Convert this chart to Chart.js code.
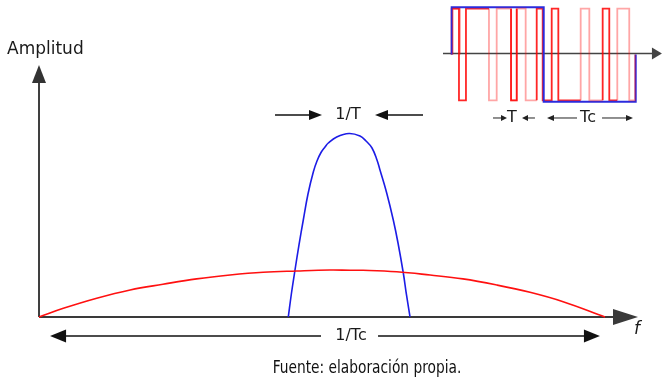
<!DOCTYPE html>
<html><head><meta charset="utf-8">
<script src="https://cdn.jsdelivr.net/npm/chart.js@4.4.1/dist/chart.umd.min.js"></script>
<style>html,body{margin:0;padding:0;background:#fff;overflow:hidden}canvas{display:block}</style>
</head><body>
<canvas id="c" width="665" height="382"></canvas>
<script>
// ---- Spectrum (frequency relative to centre, amplitude normalised) ----
const redFreq  = [-1.0,-0.914,-0.796,-0.678,-0.562,-0.443,-0.325,-0.208,-0.089,0.028,0.099,0.145,0.264,0.382,0.498,0.617,0.735,0.852,1.0];
const redAmp   = [0,0.047,0.102,0.147,0.178,0.207,0.228,0.243,0.250,0.255,0.254,0.254,0.246,0.228,0.207,0.174,0.134,0.083,0];
const blueFreq = [-0.1191,-0.1078,-0.0954,-0.0813,-0.0661,-0.0495,-0.0307,-0.0177,-0.0035,0.0106,0.0223,0.0519,0.0954,0.1343,0.1555,0.1767,0.1943,0.2049,0.2286,0.2519,0.2686,0.2873,0.2986,0.3110];
const blueAmp  = [0,0.1304,0.2554,0.3913,0.5272,0.6685,0.7880,0.8478,0.8940,0.9239,0.9457,0.9783,0.9973,0.9837,0.9565,0.9185,0.8533,0.7989,0.6739,0.5272,0.4022,0.2391,0.1196,0];

// ---- Inset: data bit (blue) and chip code (red) ----
const bitTime  = [0,0,1,1,2,2];
const bitLevel = [0,1,1,-1,-1,0];
const chipTime  = [0,0,0.079,0.079,0.155,0.155,0.405, 0.405, 0.645,0.645,0.707,0.707, 0.707, 0.924,0.924,0.989,0.989,1.087,1.087,1.159,1.159,1.402, 1.402, 1.641,1.641,1.713,1.713,1.8];
const chipLevel = [0,1,1,-1,-1,1,1, null, 1,-1,-1,1, null, -1,1,1,-1,-1,1,1,-1,-1, null, -1,1,1,-1,-1];
const chipLightTime  = [0.012,0.012,0.09,0.09, 0.09, 0.405,0.405,0.489,0.489,0.645,0.645,0.707,0.707,0.804,0.804,0.924, 0.924, 1.402,1.402,1.496,1.496,1.641, 1.641, 1.8,1.8,1.930,1.930,1.992,1.992];
const chipLightLevel = [0,1,1,0, null, 1,-1,-1,1,1,-1,-1,1,1,-1,-1, null, -1,1,1,-1,-1, null, -1,1,1,-1,-1,0];

// ---- Text labels ----
const axisLabels = ['Amplitud', 'f'];
const spanLabels = ['1/T', '1/Tc', 'T', 'Tc'];
const caption = 'Fuente: elaboración propia.';

const pts = (xs, ys) => xs.map((x, i) => ({x: x, y: ys[i]}));

const FONT = '"DejaVu Sans", Verdana, sans-serif';

function arrow(ctx, x1, y1, x2, y2, len, half, color, lw) {
  const ang = Math.atan2(y2 - y1, x2 - x1);
  const bx = x2 - Math.cos(ang) * len, by = y2 - Math.sin(ang) * len;
  ctx.save();
  ctx.strokeStyle = color; ctx.fillStyle = color; ctx.lineWidth = lw;
  ctx.beginPath(); ctx.moveTo(x1, y1); ctx.lineTo(bx + Math.cos(ang) * 1, by + Math.sin(ang) * 1); ctx.stroke();
  ctx.beginPath();
  ctx.moveTo(x2, y2);
  ctx.lineTo(bx - Math.sin(ang) * half, by + Math.cos(ang) * half);
  ctx.lineTo(bx + Math.sin(ang) * half, by - Math.cos(ang) * half);
  ctx.closePath(); ctx.fill();
  ctx.restore();
}

const decor = {
  id: 'decor',
  beforeDatasetsDraw(chart) {
    const ctx = chart.ctx, s = chart.scales;
    const X = v => s.x.getPixelForValue(v), Y = v => s.y.getPixelForValue(v);
    const X2 = v => s.x2.getPixelForValue(v), Y2 = v => s.y2.getPixelForValue(v);
    ctx.save();
    ctx.strokeStyle = '#555'; ctx.lineWidth = 1.6;
    ctx.beginPath(); ctx.moveTo(X(-1), Y(0)); ctx.lineTo(X(-1), Y(1.28)); ctx.stroke();
    ctx.restore();
    arrow(ctx, X(-1), Y(0), X(-1), Y(1.3696), 18, 7, '#333', 1.6);
    arrow(ctx, X(-1), Y(0), X(1.1166), Y(0), 25, 8, '#3a3a3a', 2);
    arrow(ctx, X2(-0.0946), Y2(0.02), X2(2.285), Y2(0.02), 10, 6, '#444', 1.6);
  },
  afterDatasetsDraw(chart) {
    const ctx = chart.ctx, s = chart.scales;
    const X = v => s.x.getPixelForValue(v), Y = v => s.y.getPixelForValue(v);
    const X2 = v => s.x2.getPixelForValue(v), Y2 = v => s.y2.getPixelForValue(v);
    ctx.save();
    ctx.fillStyle = '#1a1a1a';
    ctx.textBaseline = 'middle';
    ctx.font = '17px ' + FONT; ctx.textAlign = 'left';
    ctx.fillText(axisLabels[0], X(-1.113), Y(1.451));
    ctx.font = 'italic 17px ' + FONT; ctx.textAlign = 'center';
    ctx.fillText(axisLabels[1], X(1.113), Y(-0.0707));
    ctx.font = '16px ' + FONT; ctx.textAlign = 'center';
    ctx.fillText(spanLabels[0], X(0.0919), Y(1.0978));
    arrow(ctx, X(-0.166), Y(1.0978), X(0.0), Y(1.0978), 13, 5, '#111', 1.5);
    arrow(ctx, X(0.3569), Y(1.0978), X(0.1873), Y(1.0978), 13, 5, '#111', 1.5);
    ctx.fillText(spanLabels[1], X(0.1025), Y(-0.1033));
    arrow(ctx, X(-0.0035), Y(-0.1033), X(-0.961), Y(-0.1033), 16, 6.5, '#111', 1.5);
    arrow(ctx, X(0.198), Y(-0.1033), X(0.982), Y(-0.1033), 16, 6.5, '#111', 1.5);
    ctx.font = '16px ' + FONT;
    ctx.fillText(spanLabels[2], X2(0.655), Y2(-1.345));
    arrow(ctx, X2(0.449), Y2(-1.345), X2(0.601), Y2(-1.345), 6, 3, '#222', 1);
    arrow(ctx, X2(0.905), Y2(-1.345), X2(0.764), Y2(-1.345), 6, 3, '#222', 1);
    ctx.fillText(spanLabels[3], X2(1.4815), Y2(-1.345));
    arrow(ctx, X2(1.362), Y2(-1.345), X2(1.036), Y2(-1.345), 7, 3, '#222', 1);
    arrow(ctx, X2(1.634), Y2(-1.345), X2(1.971), Y2(-1.345), 7, 3, '#222', 1);
    // caption
    ctx.font = '17px "Liberation Sans Narrow", "DejaVu Sans Condensed", sans-serif';
    ctx.fillStyle = '#111';
    ctx.translate(367, 369);
    ctx.scale(0.9, 1);
    ctx.fillText(caption, 0, 0);
    ctx.restore();
  }
};

new Chart(document.getElementById('c'), {
  type: 'scatter',
  data: {
    datasets: [
      {data: pts(chipLightTime, chipLightLevel), xAxisID: 'x2', yAxisID: 'y3', showLine: true, spanGaps: false,
       borderColor: 'rgba(255,0,0,0.35)', borderWidth: 1.8, pointRadius: 0, tension: 0, clip: false},
      {data: pts(bitTime, bitLevel), xAxisID: 'x2', yAxisID: 'y2', showLine: true,
       borderColor: '#2b2bdd', borderWidth: 2, pointRadius: 0, tension: 0, clip: false},
      {data: pts(chipTime, chipLevel), xAxisID: 'x2', yAxisID: 'y3', showLine: true, spanGaps: false,
       borderColor: 'rgba(255,0,0,0.85)', borderWidth: 1.8, pointRadius: 0, tension: 0, clip: false},
      {data: pts(redFreq, redAmp), xAxisID: 'x', yAxisID: 'y', showLine: true,
       borderColor: '#ff1010', borderWidth: 1.6, pointRadius: 0, tension: 0.4, clip: false},
      {data: pts(blueFreq, blueAmp), xAxisID: 'x', yAxisID: 'y', showLine: true,
       borderColor: '#1c1ce6', borderWidth: 1.6, pointRadius: 0, tension: 0.4, clip: false}
    ]
  },
  options: {
    responsive: false, animation: false, devicePixelRatio: 1,
    layout: {padding: 0},
    plugins: {legend: {display: false}, tooltip: {enabled: false}, title: {display: false}},
    events: [],
    scales: {
      x:  {type: 'linear', axis: 'x', display: false, min: -1.1378, max: 1.2120},
      y:  {type: 'linear', axis: 'y', display: false, min: -0.3533, max: 1.7228},
      x2: {type: 'linear', axis: 'x', display: false, min: -4.9098, max: 2.3185},
      y2: {type: 'linear', axis: 'y', display: false, min: -6.9386, max: 1.1547},
      y3: {type: 'linear', axis: 'y', display: false, min: -7.1507, max: 1.1900}
    }
  },
  plugins: [decor]
});
</script>
</body></html>
